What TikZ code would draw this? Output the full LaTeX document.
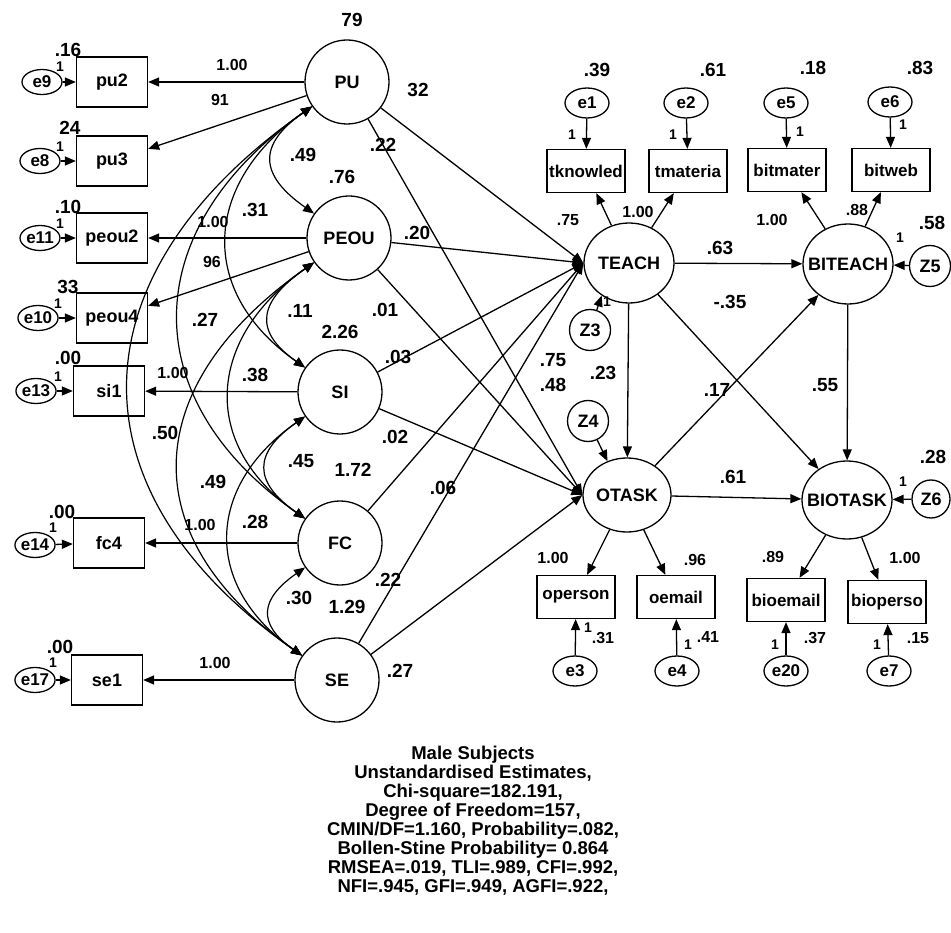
\documentclass[tikz,border=0pt]{standalone}
\usepackage{fontspec}
\setmainfont{Liberation Sans}
\usetikzlibrary{arrows.meta, shapes.geometric}
\tikzset{
  obs/.style={draw, line width=1.3pt, minimum width=71pt, minimum height=50pt, inner sep=0pt, font=\fontsize{18}{20}\selectfont\bfseries},
  obsr/.style={obs, minimum width=78pt, minimum height=43pt, font=\fontsize{17}{19}\selectfont\bfseries},
  lat/.style={draw, circle, line width=1.3pt, minimum size=84pt, inner sep=0pt, font=\fontsize{18}{20}\selectfont\bfseries},
  latr/.style={draw, ellipse, line width=1.3pt, minimum width=90pt, minimum height=80pt, inner sep=0pt, font=\fontsize{18}{20}\selectfont\bfseries},
  err/.style={draw, ellipse, line width=1.3pt, minimum width=40pt, minimum height=25pt, inner sep=0pt, font=\fontsize{17}{19}\selectfont\bfseries},
  errr/.style={err, minimum width=44pt, minimum height=30pt},
  dist/.style={draw, circle, line width=1.3pt, minimum size=41pt, inner sep=0pt, font=\fontsize{18}{20}\selectfont\bfseries},
  arr/.style={-{Triangle[length=11pt,width=9pt]}, line width=1.3pt},
  cov/.style={{Triangle[length=11pt,width=9pt]}-{Triangle[length=11pt,width=9pt]}, line width=1.2pt},
  num/.style={font=\fontsize{19}{21}\selectfont\bfseries, inner sep=0pt},
  sml/.style={font=\fontsize{16}{18}\selectfont\bfseries, inner sep=0pt},
  one/.style={font=\fontsize{14}{16}\selectfont\bfseries, inner sep=0pt},
  fitbox/.style={align=center, font=\fontsize{18.5}{19}\selectfont\bfseries, inner sep=0pt}
}
\begin{document}
\begin{tikzpicture}[x=1pt, y=-1pt]
  \useasboundingbox (0,0) rectangle (951,933);

  % exogenous factors
  \node[lat] (PU) at (347,82) {PU};
  \node[lat] (PEOU) at (349,238) {PEOU};
  \node[lat] (SI) at (340,392) {SI};
  \node[lat] (FC) at (340,543) {FC};
  \node[lat] (SE) at (337,680) {SE};

  % left indicators and errors
  \node[obs] (pu2) at (112,82) {pu2};
  \node[obs] (pu3) at (112,161) {pu3};
  \node[obs] (peou2) at (112,238) {peou2};
  \node[obs] (peou4) at (112,318) {peou4};
  \node[obs] (si1) at (109,391) {si1};
  \node[obs] (fc4) at (109,543) {fc4};
  \node[obs] (se1) at (107,680) {se1};
  \node[err] (e9) at (42,82) {e9};
  \node[err] (e8) at (40,161) {e8};
  \node[err] (e11) at (40,238) {e11};
  \node[err] (e10) at (38,318) {e10};
  \node[err] (e13) at (36,391) {e13};
  \node[err] (e14) at (35,545) {e14};
  \node[err] (e17) at (35,680) {e17};

  % endogenous factors
  \node[latr] (TEACH) at (629,263) {TEACH};
  \node[latr] (BITEACH) at (848,264) {\makebox[0pt]{BITEACH}};
  \node[latr, minimum width=88pt, minimum height=74pt] (OTASK) at (627,495) {OTASK};
  \node[latr, minimum height=78pt] (BIOTASK) at (847,500) {\makebox[0pt]{BIOTASK}};
  \node[dist] (Z3) at (590,330) {Z3};
  \node[dist] (Z4) at (588,421) {Z4};
  \node[dist] (Z5) at (930,266) {Z5};
  \node[dist, minimum size=38pt] (Z6) at (931,499) {Z6};

  % right indicators and errors
  \node[obsr] (tknow) at (586,171) {tknowled};
  \node[obsr] (tmat) at (688,171) {tmateria};
  \node[obsr] (bitmat) at (787,170) {bitmater};
  \node[obsr] (bitweb) at (891,170) {bitweb};
  \node[obsr] (operson) at (576,597) {operson};
  \node[obsr] (oemail) at (676,597) {oemail};
  \node[obsr] (bioemail) at (786,600) {bioemail};
  \node[obsr] (bioperso) at (887,602) {bioperso};
  \node[errr] (e1) at (587,103) {e1};
  \node[errr] (e2) at (686,103) {e2};
  \node[errr] (e5) at (786,103) {e5};
  \node[errr] (e6) at (890,102) {e6};
  \node[errr] (e3) at (575,671) {e3};
  \node[errr] (e4) at (677,671) {e4};
  \node[errr] (e20) at (786,671) {e20};
  \node[errr] (e7) at (889,671) {e7};

  % measurement paths
  \foreach \e/\o in {e9/pu2, e8/pu3, e11/peou2, e10/peou4, e13/si1, e14/fc4, e17/se1,
                     e1/tknow, e2/tmat, e5/bitmat, e6/bitweb, e3/operson, e4/oemail, e20/bioemail, e7/bioperso}
    \draw[arr] (\e) -- (\o);
  \foreach \f/\o in {PU/pu2, PU/pu3, PEOU/peou2, PEOU/peou4, SI/si1, FC/fc4, SE/se1,
                     TEACH/tknow, TEACH/tmat, BITEACH/bitmat, BITEACH/bitweb,
                     OTASK/operson, OTASK/oemail, BIOTASK/bioemail, BIOTASK/bioperso}
    \draw[arr] (\f) -- (\o);

  % structural paths
  \foreach \f in {PU, PEOU, SI, FC, SE}
    \draw[arr] (\f) -- (TEACH.west);
  \foreach \f in {PU, PEOU, SI, SE}
    \draw[arr] (\f) -- (OTASK.west);
  \draw[arr] (TEACH) -- (BITEACH);
  \draw[arr] (TEACH) -- (OTASK);
  \draw[arr] (TEACH) -- (BIOTASK);
  \draw[arr] (OTASK) -- (BITEACH);
  \draw[arr] (OTASK) -- (BIOTASK);
  \draw[arr] (BITEACH) -- (BIOTASK);
  \draw[arr] (Z3) -- (TEACH.230);
  \draw[arr] (Z4) -- (OTASK.120);
  \draw[arr] (Z5) -- (BITEACH);
  \draw[arr] (Z6) -- (BIOTASK);

  % covariances
  \draw[cov] (PU.215) to[out=215, in=145, looseness=1.6] (PEOU.145);
  \draw[cov] (PEOU.215) to[out=215, in=145, looseness=1.6] (SI.145);
  \draw[cov] (SI.215) to[out=215, in=145, looseness=1.6] (FC.145);
  \draw[cov] (FC.215) to[out=215, in=145, looseness=1.6] (SE.145);
  \draw[cov] (PU.215) to[out=215, in=145, looseness=1.3] (SI.145);
  \draw[cov] (PEOU.215) to[out=215, in=145, looseness=1.3] (FC.145);
  \draw[cov] (SI.215) to[out=215, in=145, looseness=1.3] (SE.145);
  \draw[cov] (PU.215) to[out=215, in=145, looseness=1.31] (FC.145);
  \draw[cov] (PEOU.215) to[out=215, in=145, looseness=1.37] (SE.145);
  \draw[cov] (PU.215) to[out=215, in=145, looseness=1.35] (SE.145);

  % estimates, left
  \node[num] (vpu2) at (68,50) {.16};
  \node[num] (vpu3) at (70,128) {24};
  \node[num] (vpeou2) at (68,207) {.10};
  \node[num] (vpeou4) at (68,287) {33};
  \node[num] (vsi1) at (68,358) {.00};
  \node[num] (vfc4) at (62,512) {.00};
  \node[num] (vse1) at (60,647) {.00};
  \node[one] (w9) at (60,67) {1};
  \node[one] (w8) at (60,147) {1};
  \node[one] (w11) at (60,224) {1};
  \node[one] (w10) at (58,304) {1};
  \node[one] (w13) at (58,377) {1};
  \node[one] (w14) at (53,528) {1};
  \node[one] (w17) at (53,663) {1};
  \node[sml] (lpu2) at (232,65) {1.00};
  \node[sml] (lpu3) at (220,100) {91};
  \node[sml] (lpeou2) at (213,222) {1.00};
  \node[sml] (lpeou4) at (212,262) {96};
  \node[sml] (lsi1) at (173,373) {1.00};
  \node[sml] (lfc4) at (200,525) {1.00};
  \node[sml] (lse1) at (215,663) {1.00};
  \node[num] (vPU) at (352,20) {79};
  \node[num] (vPEOU) at (342,177) {.76};
  \node[num] (vSI) at (340,332) {2.26};
  \node[num] (vFC) at (353,470) {1.72};
  \node[num] (vSE) at (347,607) {1.29};
  \node[num] (c12) at (303,155) {.49};
  \node[num] (c23) at (300,311) {.11};
  \node[num] (c34) at (301,461) {.45};
  \node[num] (c45) at (299,598) {.30};
  \node[num] (c13) at (255,210) {.31};
  \node[num] (c24) at (255,375) {.38};
  \node[num] (c35) at (255,522) {.28};
  \node[num] (c14) at (205,320) {.27};
  \node[num] (c25) at (213,482) {.49};
  \node[num] (c15) at (165,433) {.50};

  % estimates, structural
  \node[num] (bPUt) at (418,90) {32};
  \node[num] (bPUo) at (383,145) {.22};
  \node[num] (bPEOUt) at (417,233) {.20};
  \node[num] (bPEOUo) at (385,310) {.01};
  \node[num] (bSIt) at (398,357) {.03};
  \node[num] (bSIo) at (395,437) {.02};
  \node[num] (bFCt) at (443,488) {.06};
  \node[num] (bSEt) at (388,580) {.22};
  \node[num] (bSEo) at (400,671) {.27};
  \node[num] (vZ3) at (553,360) {.75};
  \node[num] (vZ4) at (553,385) {.48};
  \node[num] (bTo) at (603,373) {.23};
  \node[num] (bTb) at (720,248) {.63};
  \node[num] (bTbo) at (730,302) {-.35};
  \node[num] (bOb) at (717,390) {.17};
  \node[num] (bBb) at (825,385) {.55};
  \node[num] (bObo) at (733,477) {.61};
  \node[num] (vZ5) at (932,223) {.58};
  \node[num] (vZ6) at (933,457) {.28};
  \node[one] (wZ3) at (607,302) {1};
  \node[one] (wZ5) at (900,238) {1};
  \node[one] (wZ6) at (903,482) {1};

  % estimates, right
  \node[num] (ve1) at (597,70) {.39};
  \node[num] (ve2) at (713,70) {.61};
  \node[num] (ve5) at (813,68) {.18};
  \node[num] (ve6) at (920,68) {.83};
  \node[one] (w1) at (572,135) {1};
  \node[one] (w2) at (673,135) {1};
  \node[one] (w5) at (800,132) {1};
  \node[one] (w6) at (903,125) {1};
  \node[sml] (ltknow) at (568,220) {.75};
  \node[sml] (ltmat) at (638,212) {1.00};
  \node[sml] (lbitmat) at (772,220) {1.00};
  \node[sml] (lbitweb) at (857,210) {.88};
  \node[sml] (loperson) at (553,558) {1.00};
  \node[sml] (loemail) at (695,560) {.96};
  \node[sml] (lbioemail) at (773,557) {.89};
  \node[sml] (lbioperso) at (905,558) {1.00};
  \node[one] (w3) at (588,628) {1};
  \node[sml] (ve3) at (603,638) {.31};
  \node[one] (w4) at (688,645) {1};
  \node[sml] (ve4) at (708,637) {.41};
  \node[one] (w20) at (775,645) {1};
  \node[sml] (ve20) at (815,638) {.37};
  \node[one] (w7) at (877,645) {1};
  \node[sml] (ve7) at (918,638) {.15};

  \node[fitbox] (fit) at (473,821) {Male Subjects\\Unstandardised Estimates,\\Chi-square=182.191,\\Degree of Freedom=157,\\CMIN/DF=1.160, Probability=.082,\\Bollen-Stine Probability= 0.864\\RMSEA=.019, TLI=.989, CFI=.992,\\NFI=.945, GFI=.949, AGFI=.922,};
\end{tikzpicture}
\end{document}
